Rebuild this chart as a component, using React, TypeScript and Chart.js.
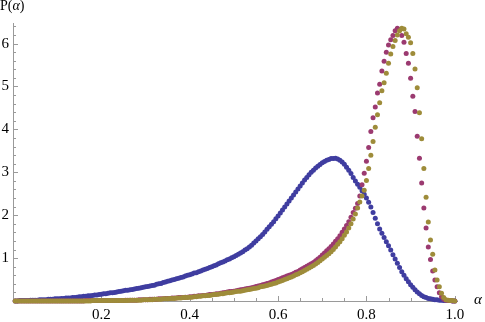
import React, { useEffect, useRef } from "react";
import { Chart, registerables } from "chart.js";

Chart.register(...registerables);

// sampling step of alpha (first point at ALPHA_STEP, last at 1.0)
const ALPHA_STEP = 0.005;

const BLUE_VALUES = [
  0.00, 0.00, 0.01, 0.01, 0.01, 0.01, 0.01, 0.02, 0.02, 0.02,
  0.02, 0.03, 0.03, 0.03, 0.03, 0.04, 0.04, 0.04, 0.05, 0.05,
  0.05, 0.06, 0.06, 0.07, 0.07, 0.07, 0.08, 0.08, 0.09, 0.10,
  0.10, 0.11, 0.11, 0.12, 0.12, 0.13, 0.14, 0.14, 0.15, 0.16,
  0.17, 0.17, 0.18, 0.19, 0.19, 0.20, 0.21, 0.22, 0.23, 0.24,
  0.25, 0.25, 0.26, 0.27, 0.28, 0.29, 0.30, 0.31, 0.32, 0.33,
  0.34, 0.35, 0.36, 0.37, 0.39, 0.40, 0.41, 0.43, 0.44, 0.46,
  0.47, 0.49, 0.50, 0.52, 0.53, 0.55, 0.56, 0.58, 0.60, 0.61,
  0.63, 0.65, 0.66, 0.68, 0.70, 0.72, 0.74, 0.76, 0.78, 0.80,
  0.82, 0.84, 0.87, 0.89, 0.91, 0.93, 0.96, 0.98, 1.01, 1.03,
  1.06, 1.09, 1.12, 1.15, 1.19, 1.22, 1.26, 1.30, 1.35, 1.40,
  1.45, 1.50, 1.55, 1.61, 1.67, 1.73, 1.79, 1.85, 1.92, 1.98,
  2.05, 2.12, 2.19, 2.26, 2.33, 2.40, 2.47, 2.54, 2.61, 2.68,
  2.75, 2.82, 2.88, 2.94, 3.00, 3.05, 3.10, 3.14, 3.18, 3.22,
  3.25, 3.28, 3.30, 3.32, 3.32, 3.33, 3.31, 3.28, 3.24, 3.19,
  3.12, 3.05, 2.97, 2.88, 2.80, 2.72, 2.65, 2.57, 2.49, 2.40,
  2.30, 2.19, 2.06, 1.93, 1.80, 1.68, 1.58, 1.48, 1.38, 1.29,
  1.19, 1.08, 0.98, 0.88, 0.78, 0.68, 0.60, 0.52, 0.45, 0.38,
  0.32, 0.26, 0.21, 0.17, 0.13, 0.10, 0.08, 0.06, 0.05, 0.04,
  0.03, 0.03, 0.02, 0.02, 0.01, 0.01, 0.01, 0.01, 0.00, 0.00,
];

const PURPLE_VALUES = [
  0.00, 0.00, 0.00, 0.00, 0.00, 0.00, 0.00, 0.00, 0.00, 0.00,
  0.00, 0.00, 0.00, 0.00, 0.00, 0.00, 0.00, 0.00, 0.00, 0.00,
  0.00, 0.00, 0.00, 0.00, 0.00, 0.00, 0.00, 0.00, 0.00, 0.00,
  0.00, 0.00, 0.01, 0.01, 0.01, 0.01, 0.01, 0.01, 0.01, 0.01,
  0.01, 0.01, 0.01, 0.01, 0.01, 0.01, 0.01, 0.01, 0.01, 0.01,
  0.02, 0.02, 0.02, 0.02, 0.02, 0.02, 0.03, 0.03, 0.03, 0.03,
  0.03, 0.04, 0.04, 0.04, 0.04, 0.05, 0.05, 0.05, 0.06, 0.06,
  0.06, 0.07, 0.07, 0.07, 0.08, 0.08, 0.08, 0.09, 0.09, 0.10,
  0.10, 0.11, 0.11, 0.12, 0.12, 0.13, 0.13, 0.14, 0.15, 0.15,
  0.16, 0.17, 0.17, 0.18, 0.19, 0.20, 0.21, 0.22, 0.22, 0.23,
  0.24, 0.25, 0.26, 0.27, 0.28, 0.29, 0.30, 0.31, 0.32, 0.34,
  0.35, 0.36, 0.38, 0.39, 0.41, 0.42, 0.44, 0.46, 0.48, 0.50,
  0.52, 0.54, 0.56, 0.58, 0.60, 0.62, 0.64, 0.67, 0.69, 0.72,
  0.75, 0.78, 0.81, 0.84, 0.87, 0.90, 0.94, 0.98, 1.02, 1.07,
  1.12, 1.17, 1.22, 1.27, 1.33, 1.39, 1.45, 1.52, 1.60, 1.68,
  1.76, 1.85, 1.95, 2.06, 2.16, 2.27, 2.45, 2.71, 2.98, 3.26,
  3.58, 3.95, 4.27, 4.52, 4.85, 5.05, 5.36, 5.59, 5.80, 5.97,
  6.09, 6.19, 6.30, 6.36, 6.33, 6.19, 6.03, 5.77, 5.54, 5.19,
  4.77, 4.42, 3.84, 3.33, 2.75, 2.17, 1.70, 1.26, 0.97, 0.70,
  0.49, 0.33, 0.19, 0.10, 0.04, 0.02, 0.01, 0.01, 0.00, 0.00,
];

const OLIVE_VALUES = [
  0.00, 0.00, 0.00, 0.00, 0.00, 0.00, 0.00, 0.00, 0.00, 0.00,
  0.00, 0.00, 0.00, 0.00, 0.00, 0.00, 0.00, 0.00, 0.00, 0.00,
  0.00, 0.00, 0.00, 0.00, 0.00, 0.00, 0.00, 0.00, 0.00, 0.00,
  0.00, 0.00, 0.00, 0.00, 0.00, 0.01, 0.01, 0.01, 0.01, 0.01,
  0.01, 0.01, 0.01, 0.01, 0.01, 0.01, 0.01, 0.01, 0.01, 0.01,
  0.01, 0.01, 0.02, 0.02, 0.02, 0.02, 0.02, 0.02, 0.03, 0.03,
  0.03, 0.03, 0.03, 0.04, 0.04, 0.04, 0.04, 0.05, 0.05, 0.05,
  0.06, 0.06, 0.06, 0.07, 0.07, 0.07, 0.08, 0.08, 0.08, 0.09,
  0.09, 0.10, 0.10, 0.11, 0.11, 0.12, 0.12, 0.13, 0.13, 0.14,
  0.15, 0.15, 0.16, 0.17, 0.17, 0.18, 0.19, 0.19, 0.20, 0.21,
  0.22, 0.23, 0.23, 0.24, 0.25, 0.26, 0.27, 0.28, 0.29, 0.30,
  0.31, 0.33, 0.34, 0.35, 0.36, 0.38, 0.39, 0.41, 0.42, 0.44,
  0.46, 0.48, 0.50, 0.52, 0.54, 0.56, 0.58, 0.61, 0.63, 0.66,
  0.68, 0.71, 0.74, 0.77, 0.80, 0.83, 0.86, 0.90, 0.94, 0.98,
  1.02, 1.06, 1.10, 1.15, 1.20, 1.26, 1.32, 1.38, 1.45, 1.53,
  1.61, 1.70, 1.80, 1.91, 2.03, 2.17, 2.31, 2.45, 2.58, 2.81,
  3.09, 3.40, 3.72, 4.05, 4.34, 4.62, 4.90, 5.09, 5.31, 5.54,
  5.76, 5.93, 6.07, 6.20, 6.30, 6.36, 6.34, 6.23, 6.15, 6.02,
  5.77, 5.41, 4.97, 4.39, 3.78, 3.09, 2.42, 1.84, 1.42, 1.09,
  0.72, 0.49, 0.33, 0.18, 0.08, 0.03, 0.02, 0.01, 0.01, 0.00,
];

const X_MAJOR_TICKS = [0.2, 0.4, 0.6, 0.8, 1.0];
const X_MINOR_TICKS = [0.05, 0.1, 0.15, 0.25, 0.3, 0.35, 0.45, 0.5, 0.55, 0.65, 0.7, 0.75, 0.85, 0.9, 0.95];
const Y_MAJOR_TICKS = [1, 2, 3, 4, 5, 6];
const Y_MINOR_TICKS = [
  0.2, 0.4, 0.6, 0.8, 1.2, 1.4, 1.6, 1.8, 2.2, 2.4, 2.6, 2.8,
  3.2, 3.4, 3.6, 3.8, 4.2, 4.4, 4.6, 4.8, 5.2, 5.4, 5.6, 5.8, 6.2, 6.4,
];

const X_MIN = 0;
const X_MAX = 1.005;
const Y_MIN = 0;
const Y_MAX = 6.48;

const BLUE = "rgb(63,61,160)";
const PURPLE = "rgb(155,58,112)";
const OLIVE = "rgb(158,140,58)";
const AXIS_COLOR = "#9a9a9a";
const FONT_FAMILY = '"Liberation Serif", "Times New Roman", serif';

const toPoints = (values: number[]) =>
  values.map((v, i) => ({ x: (i + 1) * ALPHA_STEP, y: v }));

const decorPlugin = {
  id: "mmaDecor",
  beforeDatasetsDraw(chart: any) {
    const { ctx, scales } = chart;
    const x = scales.x;
    const y = scales.y;
    const bottom = y.getPixelForValue(0);
    const left = x.getPixelForValue(0);
    ctx.save();
    ctx.strokeStyle = AXIS_COLOR;
    ctx.lineWidth = 1;
    ctx.beginPath();
    const xt = (v: number, len: number) => {
      const px = Math.round(x.getPixelForValue(v)) + 0.5;
      ctx.moveTo(px, bottom);
      ctx.lineTo(px, bottom - len);
    };
    const yt = (v: number, len: number) => {
      const py = Math.round(y.getPixelForValue(v)) + 0.5;
      ctx.moveTo(left, py);
      ctx.lineTo(left + len, py);
    };
    X_MAJOR_TICKS.forEach((v) => xt(v, 5));
    X_MINOR_TICKS.forEach((v) => xt(v, 3));
    Y_MAJOR_TICKS.forEach((v) => yt(v, 5));
    Y_MINOR_TICKS.forEach((v) => yt(v, 3));
    ctx.stroke();
    ctx.restore();
  },
  afterDraw(chart: any) {
    const { ctx } = chart;
    ctx.save();
    ctx.fillStyle = "#000";
    ctx.textBaseline = "alphabetic";
    ctx.textAlign = "left";
    // y-axis label P(α)
    const upright = `14px ${FONT_FAMILY}`;
    const italic = `italic 14px ${FONT_FAMILY}`;
    let cx = 0;
    const base = 10;
    ctx.font = upright;
    ctx.fillText("P(", cx, base);
    cx += ctx.measureText("P(").width;
    ctx.font = italic;
    ctx.fillText("α", cx, base);
    cx += ctx.measureText("α").width;
    ctx.font = upright;
    ctx.fillText(")", cx, base);
    // x-axis label α
    ctx.font = `italic 15px ${FONT_FAMILY}`;
    ctx.fillText("α", 474, 304);
    ctx.restore();
  },
};

export default function App() {
  const canvasRef = useRef<HTMLCanvasElement | null>(null);

  useEffect(() => {
    const canvas = canvasRef.current;
    if (!canvas) return;
    const chart = new Chart(canvas, {
      type: "scatter",
      data: {
        datasets: [
          {
            label: "olive",
            data: toPoints(OLIVE_VALUES),
            backgroundColor: OLIVE,
            borderWidth: 0,
            pointRadius: 2.5,
            order: 0,
            clip: false,
          },
          {
            label: "purple",
            data: toPoints(PURPLE_VALUES),
            backgroundColor: PURPLE,
            borderWidth: 0,
            pointRadius: 2.5,
            order: 1,
            clip: false,
          },
          {
            label: "blue",
            data: toPoints(BLUE_VALUES),
            backgroundColor: BLUE,
            borderWidth: 0,
            pointRadius: 2.5,
            order: 2,
            clip: false,
          },
        ],
      } as any,
      options: {
        animation: false,
        responsive: false,
        events: [],
        layout: { padding: { left: 0, top: 23, right: 28, bottom: 0 } },
        plugins: {
          legend: { display: false },
          tooltip: { enabled: false },
        },
        scales: {
          x: {
            type: "linear",
            min: X_MIN,
            max: X_MAX,
            afterBuildTicks: (s: any) => {
              s.ticks = X_MAJOR_TICKS.map((v) => ({ value: v }));
            },
            afterFit: (s: any) => {
              s.height = 21;
            },
            grid: { display: false, drawTicks: false },
            border: { display: true, color: AXIS_COLOR, width: 1 },
            ticks: {
              autoSkip: false,
              maxRotation: 0,
              padding: 5,
              color: "#000",
              font: { family: FONT_FAMILY, size: 15 },
              callback: (v: any) => Number(v).toFixed(1),
            },
          },
          y: {
            type: "linear",
            min: Y_MIN,
            max: Y_MAX,
            afterBuildTicks: (s: any) => {
              s.ticks = Y_MAJOR_TICKS.map((v) => ({ value: v }));
            },
            afterFit: (s: any) => {
              s.width = 13;
            },
            grid: { display: false, drawTicks: false },
            border: { display: true, color: AXIS_COLOR, width: 1 },
            ticks: {
              autoSkip: false,
              padding: 4,
              color: "#000",
              font: { family: FONT_FAMILY, size: 15 },
              callback: (v: any) => String(v),
            },
          },
        },
      } as any,
      plugins: [decorPlugin],
    });
    return () => chart.destroy();
  }, []);

  return (
    <div style={{ position: "fixed", left: 0, top: 0, width: 485, height: 322, background: "#fff" }}>
      <canvas ref={canvasRef} width={485} height={322} />
    </div>
  );
}
